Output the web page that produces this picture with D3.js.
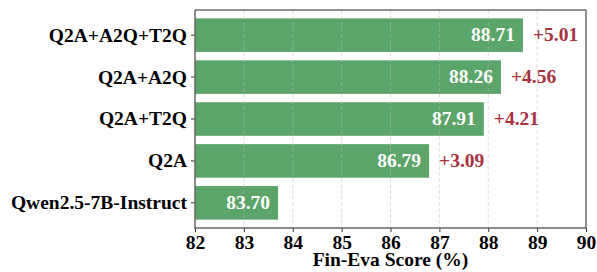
<!DOCTYPE html>
<html>
<head>
<meta charset="utf-8">
<script src="https://cdn.jsdelivr.net/npm/d3@7"></script>
<style>
    body { margin: 0; background: #fff; }
    svg { display: block; }
    text { font-family: "Liberation Serif", "Times New Roman", serif; font-weight: bold; }
</style>
</head>
<body>
<svg id="chart" width="597" height="272"></svg>
<script>
(function () {

    // data, top bar first
    const categories = ['Q2A+A2Q+T2Q', 'Q2A+A2Q', 'Q2A+T2Q', 'Q2A', 'Qwen2.5-7B-Instruct'];
    const scores = [88.71, 88.26, 87.91, 86.79, 83.70];
    const gains = ['+5.01', '+4.56', '+4.21', '+3.09', null];
    const xTicks = [82, 83, 84, 85, 86, 87, 88, 89, 90];

    const box = { left: 195, right: 586, top: 10, bottom: 228 };
    const fontSize = 19.5;

    const svg = d3.select('#chart');

    const x = d3.scaleLinear().domain([82, 90]).range([box.left, box.right]);
    const y = d3.scaleBand()
        .domain(categories)
        .range([box.top, box.bottom])
        .paddingInner(0.2)
        .paddingOuter(0.2);

    const rows = categories.map((c, i) => ({ name: c, score: scores[i], gain: gains[i] }));

    // bars
    svg.append('g')
        .selectAll('rect')
        .data(rows)
        .join('rect')
        .attr('x', x(82))
        .attr('y', (d) => y(d.name))
        .attr('width', (d) => x(d.score) - x(82))
        .attr('height', y.bandwidth())
        .attr('fill', '#5ba46a');

    // grid sits on top of the bars
    svg.append('g')
        .selectAll('line')
        .data(xTicks.slice(1, -1))
        .join('line')
        .attr('x1', (d) => x(d))
        .attr('x2', (d) => x(d))
        .attr('y1', box.top)
        .attr('y2', box.bottom)
        .attr('stroke', '#bbbbbb')
        .attr('stroke-opacity', 0.6)
        .attr('stroke-width', 0.8)
        .attr('stroke-dasharray', '4,2');

    // value labels inside bars
    svg.append('g')
        .selectAll('text')
        .data(rows)
        .join('text')
        .attr('x', (d) => x(d.score) - 8)
        .attr('y', (d) => y(d.name) + y.bandwidth() / 2 + 6)
        .attr('text-anchor', 'end')
        .attr('font-size', fontSize)
        .attr('fill', '#ffffff')
        .text((d) => d.score.toFixed(2));

    // gains
    svg.append('g')
        .selectAll('text')
        .data(rows.filter((d) => d.gain))
        .join('text')
        .attr('x', (d) => x(d.score) + 10)
        .attr('y', (d) => y(d.name) + y.bandwidth() / 2 + 6)
        .attr('font-size', fontSize)
        .attr('fill', '#a8323e')
        .text((d) => d.gain);

    // axes
    const xAxis = svg.append('g')
        .attr('transform', `translate(0,${box.bottom})`)
        .call(d3.axisBottom(x).tickValues(xTicks).tickFormat(d3.format('d')).tickSizeOuter(0).tickSize(4).tickPadding(3));

    const yAxis = svg.append('g')
        .attr('transform', `translate(${box.left},0)`)
        .call(d3.axisLeft(y).tickSizeOuter(0).tickSize(4).tickPadding(4));

    [xAxis, yAxis].forEach((g) => {
        g.select('.domain').remove();
        g.selectAll('.tick line').attr('stroke', '#333');
        g.selectAll('.tick text')
            .attr('font-size', fontSize)
            .attr('font-family', '"Liberation Serif", serif')
            .attr('font-weight', 'bold')
            .attr('fill', '#000');
    });

    yAxis.selectAll('.tick text').attr('dy', '0.33em');
    xAxis.selectAll('.tick text').attr('dy', '0.71em');

    // spines
    svg.append('line')
        .attr('x1', box.left).attr('x2', box.right)
        .attr('y1', box.top).attr('y2', box.top)
        .attr('stroke', '#222').attr('stroke-width', 1);
    svg.append('line')
        .attr('x1', box.right).attr('x2', box.right)
        .attr('y1', box.top).attr('y2', box.bottom)
        .attr('stroke', '#222').attr('stroke-width', 1);
    svg.append('line')
        .attr('x1', box.left).attr('x2', box.left)
        .attr('y1', box.top).attr('y2', box.bottom + 0.75)
        .attr('stroke', '#666').attr('stroke-width', 1.5);
    svg.append('line')
        .attr('x1', box.left - 0.75).attr('x2', box.right)
        .attr('y1', box.bottom).attr('y2', box.bottom)
        .attr('stroke', '#666').attr('stroke-width', 1.5);

    // axis title
    svg.append('text')
        .attr('x', (box.left + box.right) / 2)
        .attr('y', 266)
        .attr('text-anchor', 'middle')
        .attr('font-size', fontSize)
        .text('Fin-Eva Score (%)');

})();
</script>
</body>
</html>
